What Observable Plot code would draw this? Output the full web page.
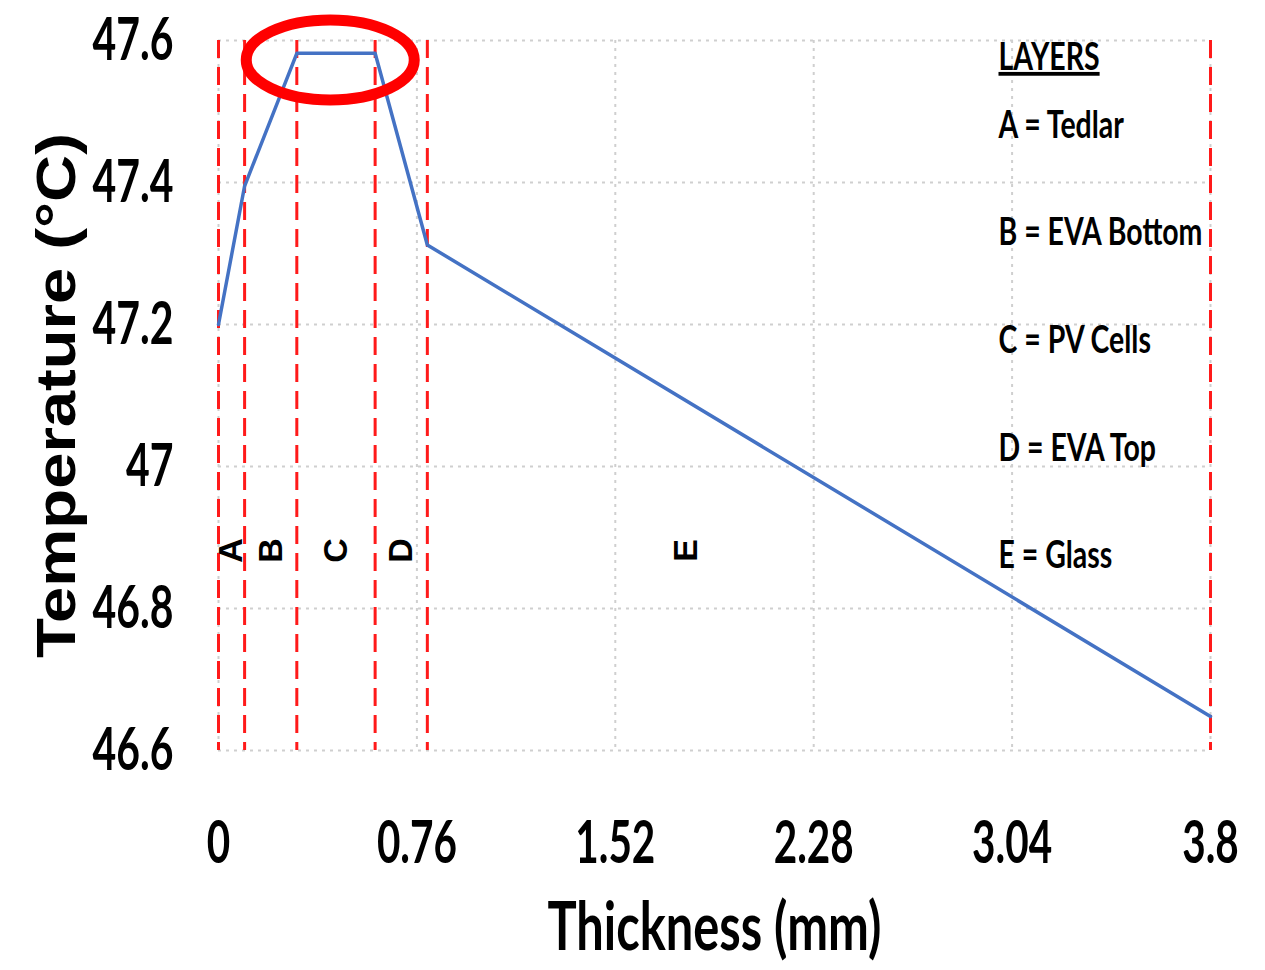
<!DOCTYPE html>
<html>
<head>
<meta charset="utf-8">
<script src="https://cdn.jsdelivr.net/npm/d3@7"></script>
<script src="https://cdn.jsdelivr.net/npm/@observablehq/plot@0.6"></script>
<style>
  html, body { margin: 0; padding: 0; background: #fff; }
  svg { display: block; }
</style>
</head>
<body>
<div id="chart"></div>
<script>
// ---- Data ----
const thickness   = [0, 0.1, 0.3, 0.6, 0.8, 3.8];                 // mm
const temperature = [47.2, 47.395, 47.582, 47.582, 47.312, 46.648]; // °C
const layerBoundaries = [0, 0.1, 0.3, 0.6, 0.8, 3.8];
const layerLetters = ["A", "B", "C", "D", "E"];
const layerLabelX  = [0.05, 0.2, 0.45, 0.7, 1.79];
const layerNames   = ["Tedlar", "EVA Bottom", "PV Cells", "EVA Top", "Glass"];
const xTicks = [0, 0.76, 1.52, 2.28, 3.04, 3.8];
const yTicks = [46.6, 46.8, 47, 47.2, 47.4, 47.6];
const highlightX = 0.43, highlightY = 47.572; // circled plateau

const xTitle = "Thickness (mm)";
const yTitle = "Temperature (°C)";

const profile = thickness.map((t, i) => ({t, T: temperature[i]}));
const letters = layerLetters.map((l, i) => ({l, x: layerLabelX[i]}));
const legendRows = ["LAYERS", ...layerLetters.map((l, i) => `${l} = ${layerNames[i]}`)];
const legendDy = [17, 85, 192, 300, 408, 515];

const txt = "Lato, 'Open Sans', sans-serif";

const ellipseMark = (index, scales) => {
  const ns = "http://www.w3.org/2000/svg";
  const g = document.createElementNS(ns, "g");
  const e = document.createElementNS(ns, "ellipse");
  e.setAttribute("cx", scales.x(highlightX));
  e.setAttribute("cy", scales.y(highlightY));
  e.setAttribute("rx", 84);
  e.setAttribute("ry", 40);
  e.setAttribute("fill", "none");
  e.setAttribute("stroke", "#ff0000");
  e.setAttribute("stroke-width", 11);
  g.appendChild(e);
  return g;
};

const svg = Plot.plot({
  width: 1265,
  height: 970,
  marginLeft: 218,
  marginRight: 55,
  marginTop: 40,
  marginBottom: 220,
  style: {fontFamily: txt, background: "#fff", color: "#000"},
  x: {domain: [0, 3.8]},
  y: {domain: [46.6, 47.6]},
  marks: [
    Plot.gridY(yTicks, {stroke: "#cfcfcf", strokeOpacity: 1, strokeWidth: 2, strokeDasharray: "3,5"}),
    Plot.gridX(xTicks, {stroke: "#cfcfcf", strokeOpacity: 1, strokeWidth: 2, strokeDasharray: "3,5"}),
    Plot.axisY(yTicks, {tickSize: 0, tickPadding: 45, fontSize: 60, fontWeight: "bold",
      tickFormat: d => String(d), label: null}),
    Plot.axisX(xTicks, {tickSize: 0, tickPadding: 70, fontSize: 60, fontWeight: "bold",
      tickFormat: d => String(d), label: null}),
    Plot.ruleX(layerBoundaries, {stroke: "#ff1a1a", strokeWidth: 3, strokeDasharray: "18,9"}),
    Plot.line(profile, {x: "t", y: "T", stroke: "#4472c4", strokeWidth: 3.5}),
    Plot.text(letters, {x: "x", text: "l", frameAnchor: "middle", dy: 155, rotate: -90,
      fontSize: 34, fontWeight: "bold", fontFamily: "'Liberation Sans', Arial, sans-serif",
      fill: "#000"}),
    ...legendRows.map((r, i) => Plot.text([r], {text: d => d, frameAnchor: "top-left",
      dx: 780, dy: legendDy[i], textAnchor: "start", lineAnchor: "middle",
      fontSize: 38, fontWeight: "bold", fill: "#000"})),
    Plot.text([xTitle], {text: d => d, frameAnchor: "bottom", dy: 178,
      textAnchor: "middle", lineAnchor: "middle", fontSize: 66, fontWeight: "bold", fill: "#000"}),
    Plot.text([yTitle], {text: d => d, frameAnchor: "left", dx: -161, rotate: -90,
      textAnchor: "middle", lineAnchor: "middle", fontSize: 56, fontWeight: "bold", fill: "#000",
      fontFamily: "'Liberation Sans', Arial, sans-serif"}),
    ellipseMark
  ]
});

document.getElementById("chart").appendChild(svg);

// Horizontal compression of text to mimic the condensed look of the original
const allTexts = [...svg.querySelectorAll("text")];
function fit(contents, refText, target) {
  const texts = allTexts.filter(t => contents.includes(t.textContent));
  if (!texts.length) return;
  const ref = texts.find(t => t.textContent === refText) || texts[0];
  const w = ref.getBBox().width;
  if (!w) return;
  const s = target / w;
  texts.forEach(t => {
    let tr = t.getAttribute("transform") || "";
    if (!tr) {
      const x = t.getAttribute("x");
      if (x != null && !isNaN(+x)) { tr = `translate(${+x},0)`; t.removeAttribute("x"); }
    }
    t.setAttribute("transform", tr + ` scale(${s},1)`);
  });
}
fit(yTicks.map(String), "47.6", 81);
fit(xTicks.map(String), "0.76", 80);
fit([xTitle], xTitle, 334);
fit([yTitle], yTitle, 525);
fit(legendRows, "B = EVA Bottom", 204);

const layersText = allTexts.find(t => t.textContent === "LAYERS");
if (layersText) layersText.style.textDecoration = "underline";
</script>
</body>
</html>
